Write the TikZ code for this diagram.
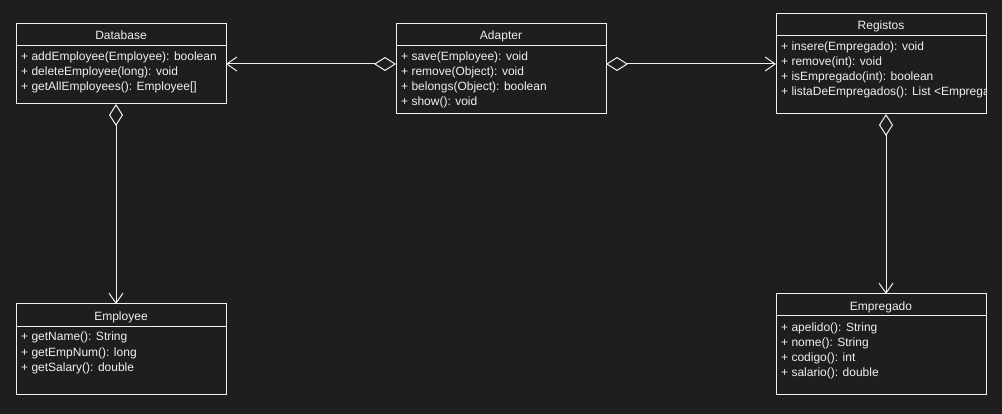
\documentclass[tikz,border=0pt]{standalone}
\usepackage{fontspec}
\setmainfont{Liberation Sans}
\usetikzlibrary{arrows.meta}
\definecolor{bg}{HTML}{1E1E1E}
\definecolor{fg}{HTML}{F0F0F0}
\tikzset{
  classbox/.style={draw=fg, line width=1pt, anchor=north west, minimum width=210pt, inner sep=0pt, outer sep=0pt},
  ctitle/.style={text=fg, anchor=base, inner sep=0pt, font=\fontsize{12}{15}\selectfont},
  member/.style={text=fg, anchor=base west, inner sep=0pt, font=\fontsize{12}{15}\selectfont},
  divider/.style={draw=fg, line width=1pt},
  aggr/.style={draw=fg, line width=1pt, {Diamond[open,length=22pt,width=14pt]}-{Straight Barb[length=10pt,width=14pt]}}
}
\begin{document}
\begin{tikzpicture}[x=1pt,y=-1pt]
\fill[bg] (0,0) rectangle (1002,414);
\useasboundingbox (0,0) rectangle (1002,414);

% Database
\node[classbox, minimum height=80pt] (db) at (16,24) {};
\draw[divider] (16,46) -- (226,46);
\node[ctitle] (dbt) at (121,40) {Database};
\node[member] (db1) at (21,61) {+ addEmployee(Employee): boolean};
\node[member] (db2) at (21,76) {+ deleteEmployee(long): void};
\node[member] (db3) at (21,91) {+ getAllEmployees(): Employee[]};

% Adapter
\node[classbox, minimum height=90pt] (ad) at (396,24) {};
\draw[divider] (396,46) -- (606,46);
\node[ctitle] (adt) at (501,40) {Adapter};
\node[member] (ad1) at (401,61) {+ save(Employee): void};
\node[member] (ad2) at (401,76) {+ remove(Object): void};
\node[member] (ad3) at (401,91) {+ belongs(Object): boolean};
\node[member] (ad4) at (401,106) {+ show(): void};

% Registos
\node[classbox, minimum height=100pt] (rg) at (776,14) {};
\draw[divider] (776,36) -- (986,36);
\node[ctitle] (rgt) at (881,30) {Registos};
\begin{scope}
\clip (776,36) rectangle (985.5,114);
\node[member] (rg1) at (781,51) {+ insere(Empregado): void};
\node[member] (rg2) at (781,66) {+ remove(int): void};
\node[member] (rg3) at (781,81) {+ isEmpregado(int): boolean};
\node[member] (rg4) at (781,96) {+ listaDeEmpregados(): List <Empregado>};
\end{scope}

% Employee
\node[classbox, minimum height=90pt] (em) at (16,304) {};
\draw[divider] (16,326) -- (226,326);
\node[ctitle] (emt) at (121,320) {Employee};
\node[member] (em1) at (21,341) {+ getName(): String};
\node[member] (em2) at (21,356) {+ getEmpNum(): long};
\node[member] (em3) at (21,371) {+ getSalary(): double};

% Empregado
\node[classbox, minimum height=100pt] (ep) at (776,294) {};
\draw[divider] (776,316) -- (986,316);
\node[ctitle] (ept) at (881,310) {Empregado};
\node[member] (ep1) at (781,331) {+ apelido(): String};
\node[member] (ep2) at (781,346) {+ nome(): String};
\node[member] (ep3) at (781,361) {+ codigo(): int};
\node[member] (ep4) at (781,376) {+ salario(): double};

% connection points
\coordinate (adL) at (ad.north west |- 0,64);
\coordinate (adR) at (ad.north east |- 0,64);
\coordinate (dbR) at (db.north east |- 0,64);
\coordinate (rgL) at (rg.north west |- 0,64);
\coordinate (dbB) at (116,0 |- db.south);
\coordinate (emT) at (116,0 |- em.north);
\coordinate (rgB) at (886,0 |- rg.south);
\coordinate (epT) at (886,0 |- ep.north);

\draw[aggr] (adL) -- (dbR);
\draw[aggr] (adR) -- (rgL);
\draw[aggr] (dbB) -- (emT);
\draw[aggr] (rgB) -- (epT);
\end{tikzpicture}
\end{document}
